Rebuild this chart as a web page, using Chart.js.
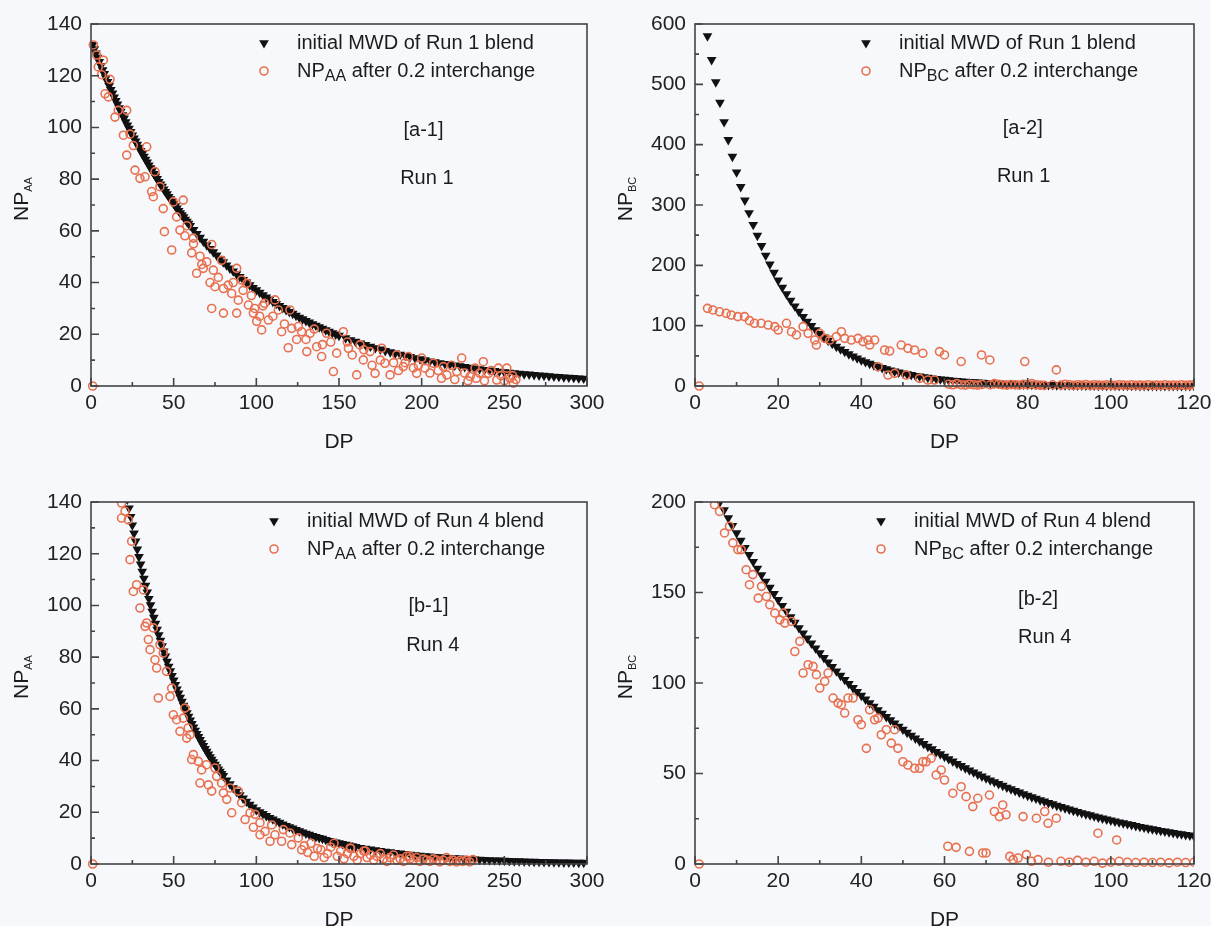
<!DOCTYPE html>
<html>
<head>
<meta charset="utf-8">
<script src="https://cdn.jsdelivr.net/npm/chart.js@4.4.0/dist/chart.umd.min.js"></script>
<style>
  html, body { margin: 0; padding: 0; background: #f6f8fc; }
  body { width: 1211px; height: 926px; position: relative; overflow: hidden; }
  canvas { position: absolute; }
</style>
</head>
<body>
<canvas id="a1" width="605" height="460" style="left:0;top:0"></canvas>
<canvas id="a2" width="606" height="460" style="left:605px;top:0"></canvas>
<canvas id="b1" width="605" height="466" style="left:0;top:460px"></canvas>
<canvas id="b2" width="606" height="466" style="left:605px;top:460px"></canvas>
<script>
// [a-1] initial MWD of Run 1 blend (NP_AA)
const a1InitDp = [
  1, 2, 3, 4, 5, 6, 7, 8, 9, 10,
  11, 12, 13, 14, 15, 16, 17, 18, 19, 20,
  21, 22, 23, 24, 25, 26, 27, 28, 29, 30,
  31, 32, 33, 34, 35, 36, 37, 38, 39, 40,
  41, 42, 43, 44, 45, 46, 47, 48, 49, 50,
  51, 52, 53, 54, 55, 56, 57, 58, 59, 60,
  62, 64, 66, 68, 70, 72, 74, 76, 78, 80,
  82, 84, 86, 88, 90, 92, 94, 96, 98, 100,
  102, 104, 106, 108, 110, 112, 114, 116, 118, 120,
  122, 124, 126, 128, 130, 132, 134, 136, 138, 140,
  142, 144, 146, 148, 150, 154, 157, 160, 163, 166,
  169, 172, 175, 178, 181, 184, 187, 190, 193, 196,
  199, 202, 205, 208, 211, 214, 217, 220, 223, 226,
  229, 232, 235, 238, 241, 244, 247, 250, 253, 256,
  259, 262, 265, 268, 271, 274, 277, 280, 283, 286,
  289, 292, 295, 298
];
const a1InitNp = [
  132.0, 130.3, 128.7, 127.0, 125.4, 123.8, 122.2, 120.7, 119.1, 117.6,
  116.1, 114.6, 113.2, 111.7, 110.3, 108.9, 107.5, 106.1, 104.8, 103.5,
  102.1, 100.8, 99.6, 98.3, 97.0, 95.8, 94.6, 93.4, 92.2, 91.0,
  89.8, 88.7, 87.6, 86.5, 85.4, 84.3, 83.2, 82.1, 81.1, 80.1,
  79.0, 78.0, 77.1, 76.1, 75.1, 74.2, 73.2, 72.3, 71.4, 70.5,
  69.6, 68.7, 67.8, 66.9, 66.1, 65.3, 64.4, 63.6, 62.8, 62.0,
  60.4, 58.9, 57.4, 55.9, 54.5, 53.1, 51.8, 50.5, 49.2, 47.9,
  46.7, 45.5, 44.4, 43.3, 42.2, 41.1, 40.1, 39.0, 38.0, 37.1,
  36.1, 35.2, 34.3, 33.5, 32.6, 31.8, 31.0, 30.2, 29.4, 28.7,
  28.0, 27.2, 26.5, 25.9, 25.2, 24.6, 24.0, 23.4, 22.8, 22.2,
  21.6, 21.1, 20.5, 20.0, 19.5, 18.5, 17.8, 17.2, 16.5, 15.9,
  15.3, 14.7, 14.2, 13.6, 13.1, 12.6, 12.2, 11.7, 11.3, 10.8,
  10.4, 10.0, 9.6, 9.3, 8.9, 8.6, 8.3, 8.0, 7.7, 7.4,
  7.1, 6.8, 6.6, 6.3, 6.1, 5.9, 5.6, 5.4, 5.2, 5.0,
  4.8, 4.6, 4.5, 4.3, 4.1, 4.0, 3.8, 3.7, 3.6, 3.4,
  3.3, 3.2, 3.0, 2.9
];
// [a-1] NP_AA after 0.2 interchange
const a1MixDp = [
  1, 1.4, 3.4, 7.5, 4.4, 6.4, 11.5, 8.5, 10.5, 14.5,
  16.5, 21.6, 19.6, 23.6, 21.6, 25.6, 33.7, 26.6, 29.6, 32.7,
  38.7, 36.7, 37.7, 41.7, 43.7, 49.8, 55.8, 51.8, 53.8, 44.4,
  48.8, 56.8, 61.9, 60.9, 65.9, 73, 63.9, 67.9, 74, 79,
  88.1, 75, 80.1, 85.1, 89.1, 91.1, 94.2, 73, 80.1, 88.1,
  95.2, 98.2, 100.2, 103.2, 107.3, 111.3, 113.3, 115.3, 120.3, 121.4,
  119.3, 124.4, 127.4, 125.4, 130.5, 132.5, 136.5, 139.5, 142.5, 146.6,
  148.6, 152.6, 155.7, 160.7, 162.7, 164.7, 168.8, 171.8, 175.8, 177.8,
  180.9, 184.9, 188.9, 192, 197, 200, 202, 207.1, 213.1, 215.2,
  221.2, 224.2, 229.3, 232.3, 237.3, 240.4, 245.4, 246.4, 251.5, 253.5,
  255.5, 105, 110, 117, 130, 135, 140, 145, 155, 158,
  165, 170, 175, 183, 186, 190, 195, 198, 205, 210,
  212, 218, 220, 226, 228, 233, 235, 238, 242, 248,
  250, 255, 257, 58, 62, 67, 70, 72, 77, 83,
  86, 92, 97, 99, 102, 104
];
const a1MixNp = [
  0, 131.9, 128, 126, 123.4, 120.4, 118.6, 113, 111.8, 104,
  106.6, 106.6, 97, 97.4, 89.3, 93, 92.5, 83.5, 80.3, 80.9,
  82.9, 75.2, 73.2, 77.1, 68.6, 71.2, 71.9, 65.4, 60.3, 59.7,
  52.6, 58.1, 57.2, 51.5, 50.2, 54.7, 43.6, 45.5, 44.8, 48.6,
  45.5, 38.4, 37.7, 35.8, 33.2, 41, 39.7, 30, 28.2, 28.2,
  31.3, 28.2, 25, 21.7, 25.5, 33.3, 29.4, 21, 29.4, 22.3,
  14.8, 18, 21, 23, 13.3, 20.4, 15.2, 11.4, 20.4, 5.6,
  12.7, 21, 14.6, 4.3, 15.9, 10.1, 13.3, 4.9, 14.6, 8.8,
  4.3, 12, 7.5, 11.4, 4.9, 10.8, 6.9, 8.8, 7.5, 4.3,
  5.6, 10.8, 3.7, 6.9, 9.4, 4.9, 2.3, 6.9, 6.9, 3,
  1.1, 32, 27, 24, 18, 22, 16, 17, 17, 12,
  14, 8, 10, 9, 6, 9, 7, 8, 5, 6,
  3, 8, 2.5, 5, 2, 3, 5, 2, 6, 4,
  2, 4, 2.5, 62, 55, 47, 48, 40, 42, 39,
  40, 37, 35, 30, 27, 31
];

// [a-2] initial MWD of Run 1 blend (NP_BC)
const a2InitDp = [
  3, 4, 5, 6, 7, 8, 9, 10, 11, 12,
  13, 14, 15, 16, 17, 18, 19, 20, 21, 22,
  23, 24, 25, 26, 27, 28, 29, 30, 31, 32,
  33, 34, 35, 36, 37, 38, 39, 40, 41, 42,
  43, 44, 45, 46, 47, 48, 49, 50, 51, 52,
  53, 54, 55, 56, 57, 58, 59, 60, 61, 62,
  63, 64, 65, 66, 67, 68, 69, 70, 71, 72,
  73, 74, 75, 76, 77, 78, 79, 80, 81, 82,
  83, 84, 85, 86, 87, 88, 89, 90, 91, 92,
  93, 94, 95, 96, 97, 98, 99, 100, 101, 102,
  103, 104, 105, 106, 107, 108, 109, 110, 111, 112,
  113, 114, 115, 116, 117, 118, 119, 120
];
const a2InitNp = [
  580, 540.6, 503.8, 469.6, 437.6, 407.9, 380.1, 354.3, 330.2, 307.7,
  286.8, 267.3, 249.2, 232.2, 216.4, 201.7, 188.0, 175.2, 163.3, 152.2,
  141.8, 132.2, 123.2, 114.8, 107.0, 99.7, 92.9, 86.6, 80.7, 75.2,
  70.1, 65.4, 60.9, 56.8, 52.9, 49.3, 46.0, 42.8, 39.9, 37.2,
  34.7, 32.3, 30.1, 28.1, 26.2, 24.4, 22.7, 21.2, 19.7, 18.4,
  17.1, 16.0, 14.9, 13.9, 12.9, 12.1, 11.2, 10.5, 9.8, 9.1,
  8.5, 7.9, 7.4, 6.9, 6.4, 6.0, 5.6, 5.2, 4.8, 4.5,
  4.2, 3.9, 3.6, 3.4, 3.2, 2.9, 2.7, 2.5, 2.4, 2.2,
  2.1, 1.9, 1.8, 1.7, 1.6, 1.5, 1.4, 1.3, 1.2, 1.1,
  1.0, 0.95, 0.9, 0.8, 0.75, 0.7, 0.65, 0.6, 0.56, 0.52,
  0.49, 0.45, 0.42, 0.39, 0.37, 0.34, 0.32, 0.3, 0.28, 0.26,
  0.24, 0.22, 0.21, 0.19, 0.18, 0.17, 0.16, 0.15
];
// [a-2] NP_BC after 0.2 interchange
const a2MixDp = [
  1, 3, 4.3, 5.9, 7.5, 8.7, 10.3, 11.9, 13.1, 14.3,
  15.9, 17.6, 19.2, 20, 22, 23.2, 24.4, 26, 27.2, 28.8,
  29.2, 30, 31.2, 32.4, 34, 35.2, 36, 37.6, 39.2, 40.4,
  41.6, 42, 43.2, 44, 45.6, 46.8, 46.4, 48, 49.6, 50.8,
  51.2, 52.8, 54.8, 54, 56, 57.6, 58.8, 60, 64, 68.9,
  70.9, 79.3, 86.9, 61, 62, 63, 64, 65, 66, 67,
  68, 69, 71, 72, 73, 74, 75, 76, 77, 78,
  79, 80, 81, 82, 83, 84, 86, 88, 89, 90,
  91, 92, 93, 94, 95, 96, 97, 98, 99, 100,
  101, 102, 103, 104, 105, 106, 107, 108, 109, 110,
  111, 112, 113, 114, 115, 116, 117, 118, 119, 120
];
const a2MixNp = [
  0, 128.7, 126, 123, 120.5, 117.7, 115, 115, 108.3, 103.9,
  103.9, 101, 98.4, 92.8, 103.9, 90, 84.6, 98.4, 87.3, 76.2,
  67.9, 87.3, 79, 76.2, 81.7, 90, 79, 76.2, 79, 73.6,
  76.2, 67.9, 76.2, 32, 59.7, 58, 18.2, 21, 67.9, 18.2,
  62.4, 59.7, 54.2, 12.7, 9.9, 9.9, 57, 51.5, 40.5, 51.5,
  43.2, 40.5, 26.7, 3, 2, 4, 2, 1.5, 3, 2,
  1.5, 2.5, 2, 4, 3, 2, 1.5, 2.5, 2, 1.5,
  3, 2, 4, 2, 1.5, 1, 2, 1.5, 3, 2,
  1, 2, 1.5, 2.5, 1, 2, 1.5, 1, 2, 1.5,
  1, 2, 1.5, 1, 2, 1, 1.5, 1, 2, 1,
  1.5, 1, 2, 1, 1.5, 1, 2, 1, 1.5, 2
];

// [b-1] initial MWD of Run 4 blend (NP_AA)
const b1InitDp = [
  22, 23, 24, 25, 26, 27, 28, 29, 30, 31,
  32, 33, 34, 35, 36, 37, 38, 39, 40, 41,
  42, 43, 44, 45, 46, 47, 48, 49, 50, 51,
  52, 53, 54, 55, 56, 57, 58, 59, 60, 61,
  62, 63, 64, 65, 66, 67, 68, 69, 70, 71,
  72, 73, 74, 75, 76, 77, 78, 79, 80, 82,
  84, 86, 88, 90, 92, 94, 96, 98, 100, 102,
  104, 106, 108, 110, 112, 114, 116, 118, 120, 122,
  124, 126, 128, 130, 132, 134, 136, 138, 140, 142,
  144, 146, 148, 150, 152, 154, 156, 158, 160, 163,
  166, 169, 172, 175, 178, 181, 184, 187, 190, 193,
  196, 199, 202, 205, 208, 211, 214, 217, 220, 223,
  226, 229, 232, 235, 238, 241, 244, 247, 250, 253,
  256, 259, 262, 265, 268, 271, 274, 277, 280, 283,
  286, 289, 292, 295, 298
];
const b1InitNp = [
  141.0, 137.6, 134.3, 131.0, 127.9, 124.8, 121.7, 118.8, 115.9, 113.1,
  110.4, 107.7, 105.1, 102.6, 100.1, 97.6, 95.3, 93.0, 90.7, 88.5,
  86.4, 84.3, 82.3, 80.3, 78.3, 76.4, 74.6, 72.8, 71.0, 69.3,
  67.6, 66.0, 64.4, 62.8, 61.3, 59.8, 58.4, 57.0, 55.6, 54.2,
  52.9, 51.6, 50.4, 49.2, 48.0, 46.8, 45.7, 44.6, 43.5, 42.4,
  41.4, 40.4, 39.4, 38.5, 37.5, 36.6, 35.8, 34.9, 34.1, 32.4,
  30.9, 29.4, 28.0, 26.7, 25.4, 24.2, 23.0, 21.9, 20.9, 20.1,
  19.4, 18.6, 17.9, 17.3, 16.6, 16.0, 15.4, 14.8, 14.3, 13.8,
  13.2, 12.7, 12.3, 11.8, 11.4, 10.9, 10.5, 10.1, 9.8, 9.4,
  9.0, 8.7, 8.4, 8.1, 7.8, 7.5, 7.2, 6.9, 6.7, 6.3,
  6.0, 5.7, 5.4, 5.1, 4.8, 4.6, 4.3, 4.1, 3.9, 3.7,
  3.5, 3.3, 3.1, 3.0, 2.8, 2.7, 2.5, 2.4, 2.3, 2.2,
  2.0, 1.9, 1.8, 1.7, 1.6, 1.5, 1.45, 1.4, 1.3, 1.2,
  1.15, 1.1, 1.0, 0.97, 0.92, 0.87, 0.82, 0.78, 0.74, 0.7,
  0.66, 0.63, 0.6, 0.56, 0.53
];
// [b-1] NP_AA after 0.2 interchange
const b1MixDp = [
  1, 18.5, 20.6, 18.5, 22.6, 24.6, 23.6, 27.6, 25.6, 31.7,
  29.6, 33.7, 32.7, 37.7, 34.7, 41.7, 35.7, 38.7, 43.7, 39.7,
  45.7, 40.7, 48.8, 47.8, 56.8, 49.8, 51.8, 55.8, 58.8, 53.8,
  57.9, 59.9, 61.9, 60.9, 64.9, 66.9, 69.9, 65.9, 71, 75,
  76, 79, 73, 80.1, 84.1, 89.1, 82.1, 85.1, 91.1, 96.2,
  93.2, 99.2, 102.2, 98.2, 105.3, 109.3, 111.3, 116.3, 115.3, 120.3,
  121.4, 125.4, 127.4, 102.2, 108.3, 129, 131, 133, 135, 137,
  139, 141, 143, 145, 147, 149, 151, 153, 155, 157,
  159, 161, 163, 165, 167, 169, 171, 173, 175, 177,
  179, 181, 183, 185, 187, 189, 191, 193, 195, 197,
  199, 201, 203, 205, 207, 209, 211, 213, 215, 217,
  219, 221, 223, 225, 227, 229, 231, 156.8, 166, 192.7
];
const b1MixNp = [
  0, 139.6, 136.4, 133.8, 133.1, 124.8, 117.7, 108, 105.4, 106,
  99, 93.2, 91.9, 91.3, 86.8, 84.8, 82.9, 79, 81.6, 75.8,
  74.5, 64.2, 68, 64.8, 60.3, 57.7, 55.8, 56.4, 52.6, 51.3,
  48.7, 50, 42.3, 40.4, 39.7, 36.4, 38.4, 31.3, 30.6, 37.1,
  33.9, 31.3, 28.2, 27.5, 29.4, 28.2, 25, 19.8, 23.7, 19.8,
  17.2, 19.2, 16, 14.2, 12.6, 15.1, 11.3, 13.3, 8.8, 12,
  7.5, 10.1, 5.5, 11.3, 8.8, 7, 4.5, 8, 3, 6,
  5.5, 2.5, 4, 6.5, 8, 3, 5, 2, 4, 6,
  3, 1.5, 4, 5, 2.5, 3.5, 1.5, 3, 4, 2,
  1, 2.5, 3.5, 1.5, 2, 1, 3, 2, 1.5, 2.5,
  1, 2, 1.5, 1, 2, 1.5, 0.8, 1.5, 2.5, 1,
  1.5, 0.8, 1.3, 1, 1.5, 0.8, 1.7, 6.2, 5, 3.1
];

// [b-2] initial MWD of Run 4 blend (NP_BC)
const b2InitDp = [
  6, 7, 8, 9, 10, 11, 12, 13, 14, 15,
  16, 17, 18, 19, 20, 21, 22, 23, 24, 25,
  26, 27, 28, 29, 30, 31, 32, 33, 34, 35,
  36, 37, 38, 39, 40, 41, 42, 43, 44, 45,
  46, 47, 48, 49, 50, 51, 52, 53, 54, 55,
  56, 57, 58, 59, 60, 61, 62, 63, 64, 65,
  66, 67, 68, 69, 70, 71, 72, 73, 74, 75,
  76, 77, 78, 79, 80, 81, 82, 83, 84, 85,
  86, 87, 88, 89, 90, 91, 92, 93, 94, 95,
  96, 97, 98, 99, 100, 101, 102, 103, 104, 105,
  106, 107, 108, 109, 110, 111, 112, 113, 114, 115,
  116, 117, 118, 119, 120
];
const b2InitNp = [
  200.0, 195.6, 191.2, 186.9, 182.8, 178.7, 174.7, 170.8, 167.0, 163.3,
  159.7, 156.1, 152.7, 149.3, 145.9, 142.7, 139.5, 136.4, 133.4, 130.4,
  127.5, 124.7, 121.9, 119.2, 116.5, 113.9, 111.4, 108.9, 106.5, 104.1,
  101.8, 99.5, 97.3, 95.2, 93.0, 91.0, 88.9, 87.0, 85.0, 83.1,
  81.3, 79.5, 77.7, 76.0, 74.3, 72.6, 71.0, 69.4, 67.9, 66.4,
  64.9, 63.5, 62.0, 60.7, 59.3, 58.0, 56.7, 55.4, 54.2, 53.0,
  51.8, 50.7, 49.5, 48.4, 47.4, 46.3, 45.3, 44.3, 43.3, 42.3,
  41.4, 40.5, 39.6, 38.7, 37.8, 37.0, 36.2, 35.3, 34.6, 33.8,
  33.1, 32.3, 31.6, 30.9, 30.2, 29.5, 28.9, 28.2, 27.6, 27.0,
  26.4, 25.8, 25.2, 24.7, 24.1, 23.6, 23.1, 22.6, 22.1, 21.6,
  21.1, 20.6, 20.2, 19.7, 19.3, 18.9, 18.4, 18.0, 17.6, 17.2,
  16.8, 16.5, 16.1, 15.8, 15.4
];
// [b-2] NP_BC after 0.2 interchange
const b2MixDp = [
  1, 4.7, 5.9, 7.1, 8.3, 9.1, 10.3, 11.1, 12.3, 13.9,
  13.1, 16, 15.2, 17.2, 18, 19.2, 20.4, 21.2, 21.6, 23.2,
  25.2, 24, 27.2, 28.4, 26, 29.2, 32, 31.2, 30, 33.2,
  34.4, 35.2, 36.8, 38, 36, 39.2, 40, 42, 43.2, 44,
  41.2, 44.8, 46, 47.2, 48, 48.8, 50, 51.2, 52.8, 54,
  54.8, 55.6, 56.8, 58, 59.2, 60, 62, 64, 65.2, 66.8,
  68, 70.8, 72, 74, 73.2, 74.8, 78.9, 82.1, 84.1, 84.9,
  86.9, 96.9, 101.4, 60.8, 62.8, 66, 69.2, 70, 75.7, 76.5,
  77.7, 79.7, 80.9, 82.5, 85, 88, 90, 92, 94, 96,
  98, 100, 102, 104, 106, 108, 110, 112, 114, 116,
  118, 120
];
const b2MixNp = [
  0, 198.5, 194.8, 182.9, 186.6, 177.4, 173.7, 173.7, 162.6, 159.9,
  154.3, 153.4, 146.9, 147.8, 143.2, 138.6, 134.9, 138.6, 133.1, 134,
  123, 117.4, 110.1, 109.2, 105.5, 104.6, 105.5, 100.9, 97.2, 91.7,
  88.9, 88, 91.7, 91.7, 83.4, 79.7, 77, 85.2, 79.7, 80.6,
  63.9, 71.4, 74.2, 66.8, 74.2, 63.9, 56.5, 54.7, 52.9, 52.9,
  56.5, 56.5, 58.4, 49.2, 51.9, 46.4, 39.1, 42.7, 37.2, 31.7,
  36.3, 38.1, 29, 32.6, 26.2, 27.2, 26.2, 25.3, 29, 22.5,
  25.3, 17, 13.3, 9.8, 9.2, 7, 6.1, 6.1, 4.2, 2.4,
  3.3, 5.2, 1.5, 2.4, 1, 1.5, 1, 2, 1, 1.5,
  0.5, 1, 1.5, 1, 0.8, 1, 0.8, 1, 0.6, 1,
  0.8, 1
];

const FONT = '"Liberation Sans", Arial, sans-serif';
const INK = '#1c1c1c';
const FRAME = '#444';
const ORANGE = '#e8704e';

function pairs(xs, ys) {
  return xs.map((x, i) => ({ x: x, y: ys[i] }));
}

// box frame, inward ticks, legend, labels with subscripts
const decorate = {
  id: 'decorate',
  afterDraw(chart, args, o) {
    const ctx = chart.ctx;
    const a = chart.chartArea;
    const sx = chart.scales.x, sy = chart.scales.y;
    ctx.save();

    ctx.strokeStyle = FRAME;
    ctx.lineWidth = 1.6;
    ctx.strokeRect(a.left, a.top, a.right - a.left, a.bottom - a.top);

    ctx.beginPath();
    const nx = Math.round(o.xMax / (o.xStep / 2));
    for (let i = 0; i <= nx; i++) {
      const px = sx.getPixelForValue(i * o.xStep / 2);
      ctx.moveTo(px, a.bottom);
      ctx.lineTo(px, a.bottom - (i % 2 === 0 ? 8 : 4));
    }
    const ny = Math.round(o.yMax / (o.yStep / 2));
    for (let i = 0; i <= ny; i++) {
      const py = sy.getPixelForValue(i * o.yStep / 2);
      ctx.moveTo(a.left, py);
      ctx.lineTo(a.left + (i % 2 === 0 ? 8 : 4), py);
    }
    ctx.stroke();

    // legend
    const lx = a.left + o.legendX;
    const ly1 = a.top + 19;
    const ly2 = ly1 + 28;
    ctx.fillStyle = '#111';
    Chart.helpers.drawPoint(ctx, { pointStyle: 'triangle', rotation: 180, radius: 5.6, borderWidth: 0 }, lx, ly1);
    ctx.fillStyle = 'rgba(0,0,0,0)';
    ctx.strokeStyle = ORANGE;
    ctx.lineWidth = 1.6;
    Chart.helpers.drawPoint(ctx, { pointStyle: 'circle', radius: 4, borderWidth: 1.6 }, lx, ly2);

    ctx.fillStyle = INK;
    ctx.textBaseline = 'middle';
    ctx.textAlign = 'left';
    const tx = lx + 33;
    ctx.font = '20px ' + FONT;
    ctx.fillText('initial MWD of Run ' + o.run + ' blend', tx, ly1);
    ctx.fillText('NP', tx, ly2);
    let w = ctx.measureText('NP').width;
    ctx.font = '16px ' + FONT;
    ctx.fillText(o.sub, tx + w, ly2 + 6);
    w += ctx.measureText(o.sub).width;
    ctx.font = '20px ' + FONT;
    ctx.fillText(' after 0.2 interchange', tx + w, ly2);

    // panel tag
    ctx.fillText(o.tag, sx.getPixelForValue(o.tagAt[0]), sy.getPixelForValue(o.tagAt[1]));
    ctx.fillText('Run ' + o.run, sx.getPixelForValue(o.runAt[0]), sy.getPixelForValue(o.runAt[1]));

    // axis titles
    ctx.font = '21px ' + FONT;
    ctx.textAlign = 'center';
    ctx.fillText('DP', (a.left + a.right) / 2, a.bottom + 56);

    ctx.translate(a.left - 69, (a.top + a.bottom) / 2 - 6);
    ctx.rotate(-Math.PI / 2);
    ctx.textAlign = 'left';
    const wNp = ctx.measureText('NP').width;
    ctx.font = '11px ' + FONT;
    const wSub = ctx.measureText(o.sub).width;
    const x0 = -(wNp + wSub) / 2;
    ctx.font = '21px ' + FONT;
    ctx.fillText('NP', x0, 0);
    ctx.font = '11px ' + FONT;
    ctx.fillText(o.sub, x0 + wNp, 7);
    ctx.restore();
  }
};

function makePanel(p) {
  const tickFont = { family: FONT, size: 21 };
  new Chart(document.getElementById(p.id), {
    type: 'scatter',
    data: {
      datasets: [
        {
          data: pairs(p.mixDp, p.mixNp),
          pointStyle: 'circle',
          pointRadius: 4,
          borderWidth: 1.6,
          borderColor: ORANGE,
          backgroundColor: 'rgba(0,0,0,0)',
          clip: { left: 8, top: 0, right: 0, bottom: 8 }
        },
        {
          data: pairs(p.initDp, p.initNp),
          pointStyle: 'triangle',
          rotation: 180,
          pointRadius: 5.6,
          borderWidth: 0,
          backgroundColor: '#111',
          clip: { left: 0, top: 0, right: 0, bottom: 8 }
        }
      ]
    },
    options: {
      responsive: false,
      animation: false,
      devicePixelRatio: 1,
      events: [],
      layout: { padding: { left: 0, top: p.top, right: p.right, bottom: 0 } },
      plugins: {
        legend: { display: false },
        tooltip: { enabled: false },
        decorate: p
      },
      scales: {
        x: {
          type: 'linear',
          min: 0,
          max: p.xMax,
          grid: { display: false, drawTicks: false },
          border: { display: false },
          ticks: { stepSize: p.xStep, autoSkip: false, maxRotation: 0, padding: 5, color: '#222', font: tickFont },
          afterFit(s) {
            s.height = p.xH;
            s.paddingLeft = 0; s.paddingRight = 0;
          }
        },
        y: {
          type: 'linear',
          min: 0,
          max: p.yMax,
          grid: { display: false, drawTicks: false },
          border: { display: false },
          ticks: { stepSize: p.yStep, autoSkip: false, padding: 9, color: '#222', font: tickFont },
          afterFit(s) {
            s.width = p.yW;
            s.paddingTop = 0; s.paddingBottom = 0;
          }
        }
      }
    },
    plugins: [decorate]
  });
}

makePanel({
  id: 'a1', xMax: 300, xStep: 50, yMax: 140, yStep: 20,
  initDp: a1InitDp, initNp: a1InitNp, mixDp: a1MixDp, mixNp: a1MixNp,
  sub: 'AA', run: '1', tag: '[a-1]', tagAt: [189, 99], runAt: [187, 80.4],
  legendX: 173, top: 24, right: 18, xH: 74, yW: 91
});
makePanel({
  id: 'a2', xMax: 120, xStep: 20, yMax: 600, yStep: 100,
  initDp: a2InitDp, initNp: a2InitNp, mixDp: a2MixDp, mixNp: a2MixNp,
  sub: 'BC', run: '1', tag: '[a-2]', tagAt: [74, 426], runAt: [72.6, 348],
  legendX: 171, top: 24, right: 17, xH: 74, yW: 90
});
makePanel({
  id: 'b1', xMax: 300, xStep: 50, yMax: 140, yStep: 20,
  initDp: b1InitDp, initNp: b1InitNp, mixDp: b1MixDp, mixNp: b1MixNp,
  sub: 'AA', run: '4', tag: '[b-1]', tagAt: [192, 99.4], runAt: [190.6, 84.7],
  legendX: 183, top: 42, right: 18, xH: 62, yW: 91
});
makePanel({
  id: 'b2', xMax: 120, xStep: 20, yMax: 200, yStep: 50,
  initDp: b2InitDp, initNp: b2InitNp, mixDp: b2MixDp, mixNp: b2MixNp,
  sub: 'BC', run: '4', tag: '[b-2]', tagAt: [77.7, 145.9], runAt: [77.7, 125.4],
  legendX: 186, top: 42, right: 17, xH: 62, yW: 90
});
</script>
</body>
</html>
